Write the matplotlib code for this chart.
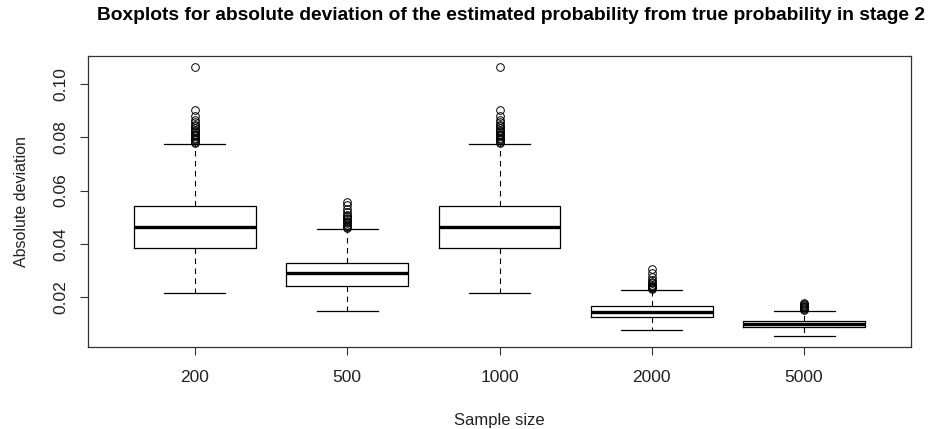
import matplotlib
matplotlib.use("Agg")
import matplotlib.pyplot as plt

# sample sizes and five-number summaries
labels = ["200", "500", "1000", "2000", "5000"]
q1 = [0.0384, 0.0242, 0.0384, 0.0126, 0.0088]
med = [0.0462, 0.0290, 0.0462, 0.0146, 0.0100]
q3 = [0.0542, 0.0330, 0.0542, 0.0169, 0.0111]
whislo = [0.0216, 0.0150, 0.0216, 0.0079, 0.0056]
whishi = [0.0774, 0.0457, 0.0774, 0.0228, 0.0150]
out_200 = [0.0778, 0.0783, 0.0788, 0.0793, 0.0798, 0.0803, 0.0808, 0.0813, 0.0818,
           0.0823, 0.0828, 0.0834, 0.0840, 0.0847, 0.0855, 0.0866, 0.0880, 0.0901, 0.1064]
out_500 = [0.0460, 0.0464, 0.0468, 0.0472, 0.0477, 0.0482, 0.0487, 0.0492, 0.0497,
           0.0503, 0.0510, 0.0518, 0.0530, 0.0545, 0.0558]
out_1000 = list(out_200)
out_2000 = [0.0231, 0.0234, 0.0237, 0.0240, 0.0243, 0.0247, 0.0252, 0.0258, 0.0266,
            0.0276, 0.0290, 0.0306]
out_5000 = [0.0153, 0.0156, 0.0159, 0.0162, 0.0165, 0.0168, 0.0172, 0.0176, 0.0180]
outliers = [out_200, out_500, out_1000, out_2000, out_5000]

plt.rcParams["font.family"] = ["Liberation Sans", "DejaVu Sans"]

stats = [dict(label=labels[i], q1=q1[i], med=med[i], q3=q3[i],
              whislo=whislo[i], whishi=whishi[i], fliers=outliers[i])
         for i in range(len(labels))]

fig = plt.figure(figsize=(9.35, 4.29), dpi=100)
ax = fig.add_axes([88.3 / 935, 1 - 346.7 / 429, (910.7 - 88.3) / 935, (346.7 - 55.7) / 429])

ax.bxp(stats, positions=range(1, 6), widths=0.8,
       boxprops=dict(color="black", linewidth=0.9),
       medianprops=dict(color="black", linewidth=2.4, solid_capstyle="butt"),
       whiskerprops=dict(color="black", linewidth=0.8, linestyle=(0, (5, 4))),
       capprops=dict(color="black", linewidth=0.9),
       capwidths=0.4,
       flierprops=dict(marker="o", markersize=5.5, markerfacecolor="none",
                       markeredgecolor="black", markeredgewidth=0.7, linestyle="none"))

ax.set_xlim(0.3, 5.7)
ax.set_ylim(0.0015, 0.1105)
ax.set_xticks(range(1, 6))
ax.set_xticklabels(labels, fontsize=12.5, color="#222222")
ax.set_yticks([0.02, 0.04, 0.06, 0.08, 0.10])
ax.set_yticklabels(["0.02", "0.04", "0.06", "0.08", "0.10"], fontsize=12.5,
                   rotation=90, va="center", color="#222222")
ax.tick_params(axis="x", length=6, width=0.8, color="#333333", pad=11)
ax.tick_params(axis="y", length=6, width=0.8, color="#333333", pad=8)
for s in ax.spines.values():
    s.set_linewidth(0.9)
    s.set_color("#333333")

ax.set_xlabel("Sample size", fontsize=12, labelpad=20, color="#222222")
ax.set_ylabel("Absolute deviation", fontsize=11.5, labelpad=18, color="#222222")
fig.text(511 / 935, 1 - 15 / 429,
         "Boxplots for absolute deviation of the estimated probability from true probability in stage 2",
         ha="center", va="center", fontsize=13.8, fontweight="bold")

fig.savefig("out.png", dpi=100)
